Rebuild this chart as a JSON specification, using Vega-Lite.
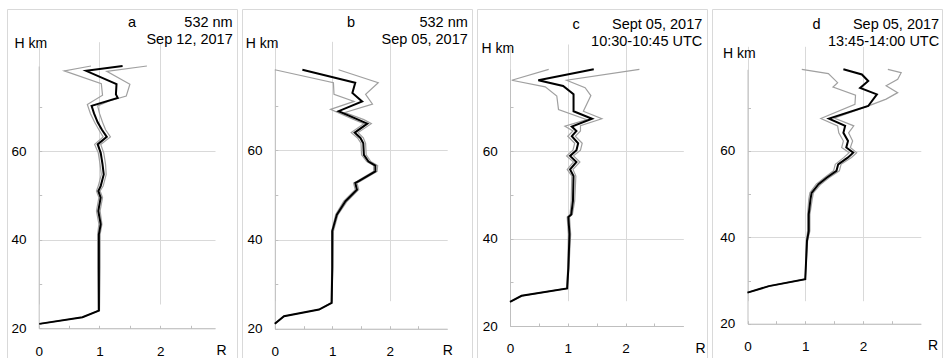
{
  "$schema": "https://vega.github.io/schema/vega-lite/v6.json",
  "background": "white",
  "padding": {"left": 6, "top": 8, "right": 0, "bottom": 0},
  "spacing": 3,
  "config": {
    "font": "Liberation Sans",
    "view": {"stroke": "#d9d9d9", "strokeWidth": 1},
    "title": {"fontSize": 14.5, "fontWeight": "normal", "color": "#000000", "anchor": "end", "frame": "group", "lineHeight": 17},
    "axis": {"domainColor": "#bfbfbf", "tickColor": "#bfbfbf", "gridColor": "#d9d9d9", "labelFontSize": 13.5, "labelColor": "#000000", "titleFontSize": 14, "titleFontWeight": "normal", "titleColor": "#000000", "tickSize": -3, "labelOverlap": false, "labelFlush": false, "labelBound": false, "format": "d"}
  },
  "datasets": {
    "a": [
      {"s": "mean", "R": 0.01, "H": 21.0}, {"s": "mean", "R": 0.72, "H": 22.5}, {"s": "mean", "R": 0.99, "H": 24.0}, {"s": "mean", "R": 0.99, "H": 33.7}, {"s": "mean", "R": 0.99, "H": 41.2}, {"s": "mean", "R": 1.02, "H": 43.5}, {"s": "mean", "R": 0.98, "H": 46.5}, {"s": "mean", "R": 1.02, "H": 49.5}, {"s": "mean", "R": 0.98, "H": 51.0}, {"s": "mean", "R": 1.02, "H": 52.1}, {"s": "mean", "R": 1.07, "H": 54.7}, {"s": "mean", "R": 1.05, "H": 57.0}, {"s": "mean", "R": 1.02, "H": 59.6}, {"s": "mean", "R": 0.97, "H": 61.5}, {"s": "mean", "R": 1.12, "H": 63.2}, {"s": "mean", "R": 1.04, "H": 64.8}, {"s": "mean", "R": 0.97, "H": 66.5}, {"s": "mean", "R": 0.91, "H": 68.5}, {"s": "mean", "R": 0.87, "H": 70.2}, {"s": "mean", "R": 1.30, "H": 72.0}, {"s": "mean", "R": 1.27, "H": 72.8}, {"s": "mean", "R": 1.28, "H": 75.1}, {"s": "mean", "R": 0.78, "H": 78.1}, {"s": "mean", "R": 1.38, "H": 79.2},
      {"s": "hi", "R": 0.01, "H": 21.0}, {"s": "hi", "R": 0.72, "H": 22.5}, {"s": "hi", "R": 1.00, "H": 24.0}, {"s": "hi", "R": 1.01, "H": 33.7}, {"s": "hi", "R": 1.01, "H": 41.2}, {"s": "hi", "R": 1.04, "H": 43.5}, {"s": "hi", "R": 1.01, "H": 46.5}, {"s": "hi", "R": 1.05, "H": 49.5}, {"s": "hi", "R": 1.01, "H": 51.0}, {"s": "hi", "R": 1.06, "H": 52.1}, {"s": "hi", "R": 1.11, "H": 54.7}, {"s": "hi", "R": 1.10, "H": 57.0}, {"s": "hi", "R": 1.07, "H": 59.6}, {"s": "hi", "R": 1.02, "H": 61.5}, {"s": "hi", "R": 1.18, "H": 63.2}, {"s": "hi", "R": 1.10, "H": 64.8}, {"s": "hi", "R": 1.05, "H": 66.5}, {"s": "hi", "R": 1.00, "H": 68.5}, {"s": "hi", "R": 0.97, "H": 70.2}, {"s": "hi", "R": 1.16, "H": 71.3}, {"s": "hi", "R": 1.44, "H": 72.4}, {"s": "hi", "R": 1.50, "H": 75.1}, {"s": "hi", "R": 1.12, "H": 78.0}, {"s": "hi", "R": 1.78, "H": 79.2},
      {"s": "lo", "R": 0.01, "H": 21.0}, {"s": "lo", "R": 0.72, "H": 22.5}, {"s": "lo", "R": 0.98, "H": 24.0}, {"s": "lo", "R": 0.97, "H": 33.7}, {"s": "lo", "R": 0.97, "H": 41.2}, {"s": "lo", "R": 0.99, "H": 43.5}, {"s": "lo", "R": 0.95, "H": 46.5}, {"s": "lo", "R": 0.99, "H": 49.5}, {"s": "lo", "R": 0.95, "H": 51.0}, {"s": "lo", "R": 0.98, "H": 52.1}, {"s": "lo", "R": 1.03, "H": 54.7}, {"s": "lo", "R": 1.01, "H": 57.0}, {"s": "lo", "R": 0.98, "H": 59.6}, {"s": "lo", "R": 0.92, "H": 61.5}, {"s": "lo", "R": 1.06, "H": 63.2}, {"s": "lo", "R": 0.99, "H": 64.8}, {"s": "lo", "R": 0.92, "H": 66.5}, {"s": "lo", "R": 0.85, "H": 68.5}, {"s": "lo", "R": 0.80, "H": 70.5}, {"s": "lo", "R": 1.05, "H": 72.6}, {"s": "lo", "R": 1.03, "H": 75.2}, {"s": "lo", "R": 0.42, "H": 78.1}, {"s": "lo", "R": 0.86, "H": 79.2}
    ],
    "b": [
      {"s": "mean", "R": 0.0, "H": 21.1}, {"s": "mean", "R": 0.16, "H": 22.8}, {"s": "mean", "R": 0.77, "H": 24.3}, {"s": "mean", "R": 0.99, "H": 25.8}, {"s": "mean", "R": 1.0, "H": 33.7}, {"s": "mean", "R": 1.0, "H": 41.9}, {"s": "mean", "R": 1.08, "H": 45.6}, {"s": "mean", "R": 1.23, "H": 48.6}, {"s": "mean", "R": 1.43, "H": 51.2}, {"s": "mean", "R": 1.40, "H": 52.7}, {"s": "mean", "R": 1.46, "H": 53.1}, {"s": "mean", "R": 1.75, "H": 55.3}, {"s": "mean", "R": 1.75, "H": 56.6}, {"s": "mean", "R": 1.63, "H": 57.5}, {"s": "mean", "R": 1.55, "H": 59.0}, {"s": "mean", "R": 1.54, "H": 61.6}, {"s": "mean", "R": 1.49, "H": 62.8}, {"s": "mean", "R": 1.39, "H": 64.0}, {"s": "mean", "R": 1.61, "H": 66.0}, {"s": "mean", "R": 1.45, "H": 66.9}, {"s": "mean", "R": 1.11, "H": 68.8}, {"s": "mean", "R": 1.52, "H": 71.0}, {"s": "mean", "R": 1.35, "H": 72.9}, {"s": "mean", "R": 1.40, "H": 75.2}, {"s": "mean", "R": 0.48, "H": 78.1},
      {"s": "hi", "R": 0.0, "H": 21.1}, {"s": "hi", "R": 0.16, "H": 22.8}, {"s": "hi", "R": 0.77, "H": 24.3}, {"s": "hi", "R": 0.99, "H": 25.8}, {"s": "hi", "R": 1.01, "H": 33.7}, {"s": "hi", "R": 1.02, "H": 41.9}, {"s": "hi", "R": 1.10, "H": 45.6}, {"s": "hi", "R": 1.26, "H": 48.6}, {"s": "hi", "R": 1.46, "H": 51.2}, {"s": "hi", "R": 1.43, "H": 52.7}, {"s": "hi", "R": 1.49, "H": 53.1}, {"s": "hi", "R": 1.78, "H": 55.3}, {"s": "hi", "R": 1.79, "H": 56.6}, {"s": "hi", "R": 1.67, "H": 57.5}, {"s": "hi", "R": 1.59, "H": 59.0}, {"s": "hi", "R": 1.58, "H": 61.6}, {"s": "hi", "R": 1.54, "H": 62.8}, {"s": "hi", "R": 1.45, "H": 64.0}, {"s": "hi", "R": 1.68, "H": 66.0}, {"s": "hi", "R": 1.55, "H": 66.9}, {"s": "hi", "R": 1.22, "H": 68.5}, {"s": "hi", "R": 1.70, "H": 70.4}, {"s": "hi", "R": 1.58, "H": 72.6}, {"s": "hi", "R": 1.80, "H": 75.2}, {"s": "hi", "R": 1.11, "H": 78.1},
      {"s": "lo", "R": 0.0, "H": 21.1}, {"s": "lo", "R": 0.16, "H": 22.8}, {"s": "lo", "R": 0.77, "H": 24.3}, {"s": "lo", "R": 0.98, "H": 25.8}, {"s": "lo", "R": 0.99, "H": 33.7}, {"s": "lo", "R": 0.99, "H": 41.9}, {"s": "lo", "R": 1.06, "H": 45.6}, {"s": "lo", "R": 1.20, "H": 48.6}, {"s": "lo", "R": 1.40, "H": 51.2}, {"s": "lo", "R": 1.37, "H": 52.7}, {"s": "lo", "R": 1.43, "H": 53.1}, {"s": "lo", "R": 1.72, "H": 55.3}, {"s": "lo", "R": 1.72, "H": 56.6}, {"s": "lo", "R": 1.60, "H": 57.5}, {"s": "lo", "R": 1.51, "H": 59.0}, {"s": "lo", "R": 1.50, "H": 61.6}, {"s": "lo", "R": 1.44, "H": 62.8}, {"s": "lo", "R": 1.33, "H": 64.0}, {"s": "lo", "R": 1.55, "H": 66.0}, {"s": "lo", "R": 1.36, "H": 67.0}, {"s": "lo", "R": 0.97, "H": 69.2}, {"s": "lo", "R": 1.38, "H": 71.0}, {"s": "lo", "R": 1.03, "H": 72.6}, {"s": "lo", "R": 1.02, "H": 75.2}, {"s": "lo", "R": 0.0, "H": 78.1}
    ],
    "c": [
      {"s": "mean", "R": 0.0, "H": 25.5}, {"s": "mean", "R": 0.20, "H": 26.9}, {"s": "mean", "R": 0.99, "H": 28.6}, {"s": "mean", "R": 1.01, "H": 33.3}, {"s": "mean", "R": 1.03, "H": 41.0}, {"s": "mean", "R": 1.01, "H": 44.9}, {"s": "mean", "R": 1.06, "H": 45.5}, {"s": "mean", "R": 1.09, "H": 48.6}, {"s": "mean", "R": 1.10, "H": 54.3}, {"s": "mean", "R": 1.04, "H": 55.8}, {"s": "mean", "R": 1.15, "H": 57.5}, {"s": "mean", "R": 1.04, "H": 58.9}, {"s": "mean", "R": 1.15, "H": 60.2}, {"s": "mean", "R": 1.18, "H": 61.8}, {"s": "mean", "R": 1.07, "H": 63.4}, {"s": "mean", "R": 1.15, "H": 64.6}, {"s": "mean", "R": 1.07, "H": 65.6}, {"s": "mean", "R": 1.42, "H": 67.4}, {"s": "mean", "R": 1.10, "H": 69.1}, {"s": "mean", "R": 1.10, "H": 73.0}, {"s": "mean", "R": 0.92, "H": 74.9}, {"s": "mean", "R": 0.49, "H": 76.2}, {"s": "mean", "R": 1.45, "H": 78.7},
      {"s": "hi", "R": 0.0, "H": 25.5}, {"s": "hi", "R": 0.20, "H": 26.9}, {"s": "hi", "R": 0.99, "H": 28.6}, {"s": "hi", "R": 1.02, "H": 33.3}, {"s": "hi", "R": 1.05, "H": 41.0}, {"s": "hi", "R": 1.03, "H": 44.9}, {"s": "hi", "R": 1.08, "H": 45.5}, {"s": "hi", "R": 1.12, "H": 48.6}, {"s": "hi", "R": 1.14, "H": 54.3}, {"s": "hi", "R": 1.09, "H": 55.8}, {"s": "hi", "R": 1.21, "H": 57.5}, {"s": "hi", "R": 1.10, "H": 58.9}, {"s": "hi", "R": 1.22, "H": 60.2}, {"s": "hi", "R": 1.25, "H": 61.8}, {"s": "hi", "R": 1.13, "H": 63.4}, {"s": "hi", "R": 1.22, "H": 64.6}, {"s": "hi", "R": 1.22, "H": 65.8}, {"s": "hi", "R": 1.59, "H": 67.4}, {"s": "hi", "R": 1.27, "H": 69.1}, {"s": "hi", "R": 1.40, "H": 72.7}, {"s": "hi", "R": 1.30, "H": 74.5}, {"s": "hi", "R": 0.98, "H": 76.2}, {"s": "hi", "R": 2.24, "H": 78.7},
      {"s": "lo", "R": 0.0, "H": 25.5}, {"s": "lo", "R": 0.20, "H": 26.9}, {"s": "lo", "R": 0.98, "H": 28.6}, {"s": "lo", "R": 1.00, "H": 33.3}, {"s": "lo", "R": 1.01, "H": 41.0}, {"s": "lo", "R": 0.99, "H": 44.9}, {"s": "lo", "R": 1.04, "H": 45.5}, {"s": "lo", "R": 1.06, "H": 48.6}, {"s": "lo", "R": 1.07, "H": 54.3}, {"s": "lo", "R": 0.99, "H": 55.8}, {"s": "lo", "R": 1.10, "H": 57.5}, {"s": "lo", "R": 0.98, "H": 58.9}, {"s": "lo", "R": 1.09, "H": 60.2}, {"s": "lo", "R": 1.12, "H": 61.8}, {"s": "lo", "R": 1.00, "H": 63.4}, {"s": "lo", "R": 1.09, "H": 64.6}, {"s": "lo", "R": 0.95, "H": 65.7}, {"s": "lo", "R": 1.33, "H": 67.2}, {"s": "lo", "R": 0.84, "H": 69.5}, {"s": "lo", "R": 0.81, "H": 72.6}, {"s": "lo", "R": 0.61, "H": 74.7}, {"s": "lo", "R": 0.03, "H": 76.2}, {"s": "lo", "R": 0.67, "H": 78.7}
    ],
    "d": [
      {"s": "mean", "R": 0.0, "H": 27.2}, {"s": "mean", "R": 0.37, "H": 28.7}, {"s": "mean", "R": 1.0, "H": 30.3}, {"s": "mean", "R": 1.03, "H": 39.2}, {"s": "mean", "R": 1.06, "H": 41.5}, {"s": "mean", "R": 1.06, "H": 45.3}, {"s": "mean", "R": 1.09, "H": 48.8}, {"s": "mean", "R": 1.11, "H": 50.3}, {"s": "mean", "R": 1.23, "H": 52.3}, {"s": "mean", "R": 1.37, "H": 53.8}, {"s": "mean", "R": 1.54, "H": 55.4}, {"s": "mean", "R": 1.57, "H": 56.9}, {"s": "mean", "R": 1.74, "H": 58.5}, {"s": "mean", "R": 1.83, "H": 59.6}, {"s": "mean", "R": 1.71, "H": 60.8}, {"s": "mean", "R": 1.74, "H": 62.3}, {"s": "mean", "R": 1.66, "H": 64.2}, {"s": "mean", "R": 1.69, "H": 65.8}, {"s": "mean", "R": 1.41, "H": 67.5}, {"s": "mean", "R": 2.09, "H": 70.4}, {"s": "mean", "R": 2.24, "H": 73.1}, {"s": "mean", "R": 1.95, "H": 74.6}, {"s": "mean", "R": 2.09, "H": 76.2}, {"s": "mean", "R": 1.98, "H": 77.7}, {"s": "mean", "R": 1.66, "H": 78.9},
      {"s": "hi", "R": 0.0, "H": 27.2}, {"s": "hi", "R": 0.37, "H": 28.7}, {"s": "hi", "R": 1.0, "H": 30.3}, {"s": "hi", "R": 1.04, "H": 39.2}, {"s": "hi", "R": 1.08, "H": 41.5}, {"s": "hi", "R": 1.08, "H": 45.3}, {"s": "hi", "R": 1.12, "H": 48.8}, {"s": "hi", "R": 1.14, "H": 50.3}, {"s": "hi", "R": 1.27, "H": 52.3}, {"s": "hi", "R": 1.41, "H": 53.8}, {"s": "hi", "R": 1.59, "H": 55.4}, {"s": "hi", "R": 1.62, "H": 56.9}, {"s": "hi", "R": 1.80, "H": 58.5}, {"s": "hi", "R": 1.89, "H": 59.6}, {"s": "hi", "R": 1.78, "H": 60.8}, {"s": "hi", "R": 1.82, "H": 62.3}, {"s": "hi", "R": 1.75, "H": 64.2}, {"s": "hi", "R": 1.84, "H": 65.8}, {"s": "hi", "R": 1.50, "H": 67.6}, {"s": "hi", "R": 2.05, "H": 70.2}, {"s": "hi", "R": 2.40, "H": 72.0}, {"s": "hi", "R": 2.60, "H": 73.5}, {"s": "hi", "R": 2.40, "H": 75.1}, {"s": "hi", "R": 2.60, "H": 76.6}, {"s": "hi", "R": 2.66, "H": 78.1}, {"s": "hi", "R": 2.43, "H": 78.9},
      {"s": "lo", "R": 0.0, "H": 27.2}, {"s": "lo", "R": 0.37, "H": 28.7}, {"s": "lo", "R": 1.0, "H": 30.3}, {"s": "lo", "R": 1.02, "H": 39.2}, {"s": "lo", "R": 1.04, "H": 41.5}, {"s": "lo", "R": 1.04, "H": 45.3}, {"s": "lo", "R": 1.06, "H": 48.8}, {"s": "lo", "R": 1.08, "H": 50.3}, {"s": "lo", "R": 1.19, "H": 52.3}, {"s": "lo", "R": 1.33, "H": 53.8}, {"s": "lo", "R": 1.49, "H": 55.4}, {"s": "lo", "R": 1.52, "H": 56.9}, {"s": "lo", "R": 1.67, "H": 58.5}, {"s": "lo", "R": 1.76, "H": 59.6}, {"s": "lo", "R": 1.63, "H": 60.8}, {"s": "lo", "R": 1.66, "H": 62.3}, {"s": "lo", "R": 1.58, "H": 64.2}, {"s": "lo", "R": 1.56, "H": 65.8}, {"s": "lo", "R": 1.27, "H": 67.5}, {"s": "lo", "R": 1.86, "H": 70.8}, {"s": "lo", "R": 1.87, "H": 72.9}, {"s": "lo", "R": 1.48, "H": 74.8}, {"s": "lo", "R": 1.56, "H": 75.8}, {"s": "lo", "R": 1.40, "H": 77.9}, {"s": "lo", "R": 0.94, "H": 78.9}
    ]
  },
  "hconcat": [
    {
      "width": 230, "height": 352,
      "title": {"text": ["a\u00a0\u00a0\u00a0\u00a0\u00a0\u00a0\u00a0\u00a0\u00a0\u00a0\u00a0\u00a0532 nm", "Sep 12, 2017"], "offset": -38, "dx": -4.3},
      "data": {"name": "a"},
      "encoding": {
        "x": {"field": "R", "type": "quantitative", "scale": {"domain": [0, 2.9], "range": [31.7, 208], "nice": false, "zero": false},
          "axis": {"values": [0, 0.5, 1, 1.5, 2, 2.5], "labelExpr": "datum.value % 1 === 0 ? datum.label : ''", "gridOpacity": {"condition": {"test": "datum.value % 1 !== 0", "value": 0}, "value": 1}, "offset": -32.7, "labelPadding": 18.7, "title": "R", "titleX": 214, "titleY": 26, "titleAlign": "center", "titleBaseline": "alphabetic"}},
        "y": {"field": "H", "type": "quantitative", "scale": {"domain": [20, 79.2], "range": [319.3, 57], "nice": false, "zero": false},
          "axis": {"values": [20, 30, 40, 50, 60, 70], "labelExpr": "datum.value % 20 === 0 ? datum.label : ''", "gridOpacity": {"condition": {"test": "datum.value % 20 !== 0", "value": 0}, "value": 1}, "offset": -31.7, "labelPadding": 15.7, "title": "H km", "titleAngle": 0, "titleAlign": "left", "titleBaseline": "alphabetic", "titleX": -24.7, "titleY": 38.3}},
        "order": {"field": "H", "type": "quantitative"}
      },
      "layer": [
        {"transform": [{"filter": "datum.s !== 'mean'"}], "mark": {"type": "line", "color": "#a0a0a0", "strokeWidth": 1.2}, "encoding": {"detail": {"field": "s"}}},
        {"transform": [{"filter": "datum.s === 'mean'"}], "mark": {"type": "line", "color": "#000000", "strokeWidth": 2}, "encoding": {}}
      ]
    },
    {
      "width": 230, "height": 352,
      "title": {"text": ["b\u00a0\u00a0\u00a0\u00a0\u00a0\u00a0\u00a0\u00a0\u00a0\u00a0\u00a0\u00a0\u00a0\u00a0\u00a0\u00a0532 nm", "Sep 05, 2017"], "offset": -38, "dx": -4.2},
      "data": {"name": "b"},
      "encoding": {
        "x": {"field": "R", "type": "quantitative", "scale": {"domain": [0, 3], "range": [32.8, 205.2], "nice": false, "zero": false},
          "axis": {"values": [0, 0.5, 1, 1.5, 2, 2.5], "labelExpr": "datum.value % 1 === 0 ? datum.label : ''", "gridOpacity": {"condition": {"test": "datum.value % 1 !== 0", "value": 0}, "value": 1}, "offset": -32.3, "labelPadding": 18.7, "title": "R", "titleX": 205.2, "titleY": 26, "titleAlign": "center", "titleBaseline": "alphabetic"}},
        "y": {"field": "H", "type": "quantitative", "scale": {"domain": [20, 78.2], "range": [319.7, 60.3], "nice": false, "zero": false},
          "axis": {"values": [20, 30, 40, 50, 60, 70], "labelExpr": "datum.value % 20 === 0 ? datum.label : ''", "gridOpacity": {"condition": {"test": "datum.value % 20 !== 0", "value": 0}, "value": 1}, "offset": -32.8, "labelPadding": 15.7, "title": "H km", "titleAngle": 0, "titleAlign": "left", "titleBaseline": "alphabetic", "titleX": -29.5, "titleY": 38.7}},
        "order": {"field": "H", "type": "quantitative"}
      },
      "layer": [
        {"transform": [{"filter": "datum.s !== 'mean'"}], "mark": {"type": "line", "color": "#a0a0a0", "strokeWidth": 1.2}, "encoding": {"detail": {"field": "s"}}},
        {"transform": [{"filter": "datum.s === 'mean'"}], "mark": {"type": "line", "color": "#000000", "strokeWidth": 2}, "encoding": {}}
      ]
    },
    {
      "width": 230, "height": 352,
      "title": {"text": ["c\u00a0\u00a0\u00a0\u00a0\u00a0\u00a0\u00a0\u00a0Sept 05, 2017", "10:30-10:45 UTC"], "offset": -40, "dx": -4.7},
      "data": {"name": "c"},
      "encoding": {
        "x": {"field": "R", "type": "quantitative", "scale": {"domain": [0, 3], "range": [33, 206.3], "nice": false, "zero": false},
          "axis": {"values": [0, 0.5, 1, 1.5, 2, 2.5], "labelExpr": "datum.value % 1 === 0 ? datum.label : ''", "gridOpacity": {"condition": {"test": "datum.value % 1 !== 0", "value": 0}, "value": 1}, "offset": -35, "labelPadding": 18.7, "title": "R", "titleX": 223, "titleY": 26, "titleAlign": "center", "titleBaseline": "alphabetic"}},
        "y": {"field": "H", "type": "quantitative", "scale": {"domain": [20, 78.7], "range": [317, 60.3], "nice": false, "zero": false},
          "axis": {"values": [20, 30, 40, 50, 60, 70], "labelExpr": "datum.value % 20 === 0 ? datum.label : ''", "gridOpacity": {"condition": {"test": "datum.value % 20 !== 0", "value": 0}, "value": 1}, "offset": -33, "labelPadding": 15.7, "title": "H km", "titleAngle": 0, "titleAlign": "left", "titleBaseline": "alphabetic", "titleX": -29, "titleY": 43.7}},
        "order": {"field": "H", "type": "quantitative"}
      },
      "layer": [
        {"transform": [{"filter": "datum.s !== 'mean'"}], "mark": {"type": "line", "color": "#a0a0a0", "strokeWidth": 1.2}, "encoding": {"detail": {"field": "s"}}},
        {"transform": [{"filter": "datum.s === 'mean'"}], "mark": {"type": "line", "color": "#000000", "strokeWidth": 2}, "encoding": {}}
      ]
    },
    {
      "width": 230, "height": 352,
      "title": {"text": ["d\u00a0\u00a0\u00a0\u00a0\u00a0\u00a0\u00a0\u00a0Sep 05, 2017", "13:45-14:00 UTC"], "offset": -40, "dx": -2.8},
      "data": {"name": "d"},
      "encoding": {
        "x": {"field": "R", "type": "quantitative", "scale": {"domain": [0, 3], "range": [35.5, 208.8], "nice": false, "zero": false},
          "axis": {"values": [0, 0.5, 1, 1.5, 2, 2.5], "labelExpr": "datum.value % 1 === 0 ? datum.label : ''", "gridOpacity": {"condition": {"test": "datum.value % 1 !== 0", "value": 0}, "value": 1}, "offset": -37.3, "labelPadding": 18.7, "title": "R", "titleX": 220.5, "titleY": 26, "titleAlign": "center", "titleBaseline": "alphabetic"}},
        "y": {"field": "H", "type": "quantitative", "scale": {"domain": [20, 78.9], "range": [314.7, 60.3], "nice": false, "zero": false},
          "axis": {"values": [20, 30, 40, 50, 60, 70], "labelExpr": "datum.value % 20 === 0 ? datum.label : ''", "gridOpacity": {"condition": {"test": "datum.value % 20 !== 0", "value": 0}, "value": 1}, "offset": -35.5, "labelPadding": 15.7, "title": "H km", "titleAngle": 0, "titleAlign": "left", "titleBaseline": "alphabetic", "titleX": -25, "titleY": 48}},
        "order": {"field": "H", "type": "quantitative"}
      },
      "layer": [
        {"transform": [{"filter": "datum.s !== 'mean'"}], "mark": {"type": "line", "color": "#a0a0a0", "strokeWidth": 1.2}, "encoding": {"detail": {"field": "s"}}},
        {"transform": [{"filter": "datum.s === 'mean'"}], "mark": {"type": "line", "color": "#000000", "strokeWidth": 2}, "encoding": {}}
      ]
    }
  ]
}
